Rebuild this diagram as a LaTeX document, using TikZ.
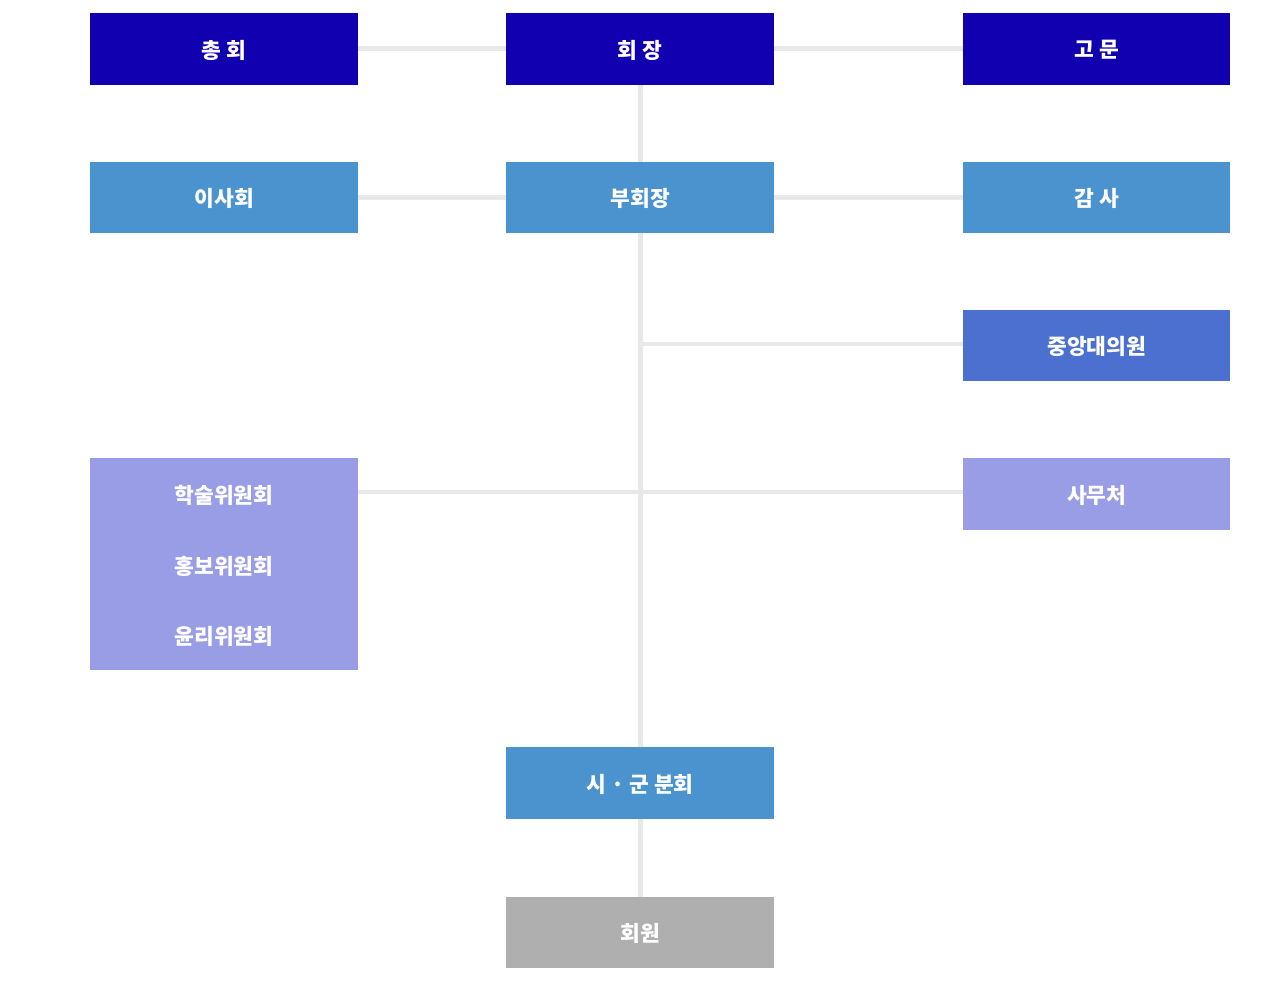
\documentclass[tikz,border=0pt]{standalone}
\usepackage{fontspec}
\setmainfont{Noto Sans CJK KR}
\definecolor{cdark}{HTML}{1100AF}
\definecolor{cmid}{HTML}{4B93CE}
\definecolor{cblue}{HTML}{4B70CF}
\definecolor{clav}{HTML}{999DE6}
\definecolor{cgray}{HTML}{AFAFAF}
\definecolor{cline}{HTML}{E8E8E8}
\begin{document}
\begin{tikzpicture}[x=1pt,y=-1pt,
  lbl/.style={font=\fontsize{21.5}{26}\selectfont\bfseries,text=white},
  box/.style={lbl,draw=none,minimum width=268pt,minimum height=72pt,inner sep=0pt,anchor=north west,
    text depth=-1.5pt},
  rbox/.style={box,minimum width=267pt},
  conn/.style={draw=cline,line width=4.5pt}]
\useasboundingbox (0,0) rectangle (1280,991);
\coordinate (v1) at (640.5,344);
\coordinate (v2) at (640.5,492);
\node[box,fill=cdark] (chonghoe) at (90,13) {총 회};
\node[box,fill=cdark] (hoejang) at (506,13) {회 장};
\node[rbox,fill=cdark] (gomun) at (963,13) {고 문};
\node[box,fill=cmid,minimum height=71pt] (isahoe) at (90,162) {이사회};
\node[box,fill=cmid,minimum height=71pt] (buhoejang) at (506,162) {부회장};
\node[rbox,fill=cmid,minimum height=71pt] (gamsa) at (963,162) {감 사};
\node[rbox,fill=cblue,minimum height=71pt] (daeui) at (963,310) {중앙대의원};
\node[rbox,fill=clav] (samucheo) at (963,458) {사무처};
\node[box,fill=clav,minimum height=212pt] (wiwon) at (90,458) {};
\node[box,fill=cmid] (bunhoe) at (506,747) {시 · 군 분회};
\node[box,fill=cgray,minimum height=71pt] (hoewon) at (506,897) {회원};
\node[lbl,inner sep=0pt] (hak) at (224,495) {학술위원회};
\node[lbl,inner sep=0pt] (hong) at (224,566) {홍보위원회};
\node[lbl,inner sep=0pt] (yun) at (224,636.5) {윤리위원회};
\draw[conn] (chonghoe.east |- 0,48.5) -- (hoejang.west |- 0,48.5);
\draw[conn] (hoejang.east |- 0,48.5) -- (gomun.west |- 0,48.5);
\draw[conn] (isahoe.east |- 0,197.5) -- (buhoejang.west |- 0,197.5);
\draw[conn] (buhoejang.east |- 0,197.5) -- (gamsa.west |- 0,197.5);
\draw[conn] (hoejang.south -| 640.5,0) -- (buhoejang.north -| 640.5,0);
\draw[conn] (buhoejang.south -| 640.5,0) -- (bunhoe.north -| 640.5,0);
\draw[conn] (bunhoe.south -| 640.5,0) -- (hoewon.north -| 640.5,0);
\draw[conn] (v1) -- (daeui.west |- v1);
\draw[conn] (wiwon.east |- v2) -- (samucheo.west |- v2);
\end{tikzpicture}
\end{document}
